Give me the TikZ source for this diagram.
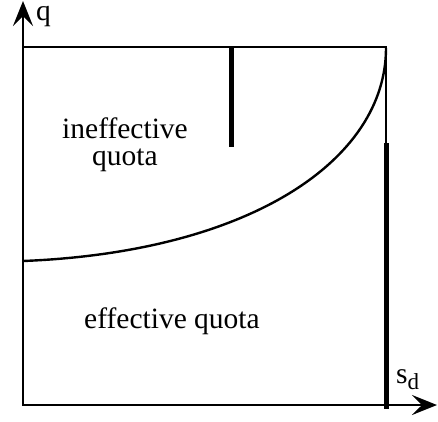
\documentclass[tikz,border=0pt]{standalone}
\usepackage{fontspec}
\setmainfont{Liberation Serif}
\usetikzlibrary{arrows.meta}
\begin{document}
\begin{tikzpicture}[x=1pt,y=-1pt,
  axis/.style={line width=2.8pt,-{Stealth[length=25pt,width=20pt,inset=10pt]}},
  thin/.style={line width=2.8pt},
  curvestyle/.style={line width=2.4pt},
  bar/.style={line width=5pt},
  lbl/.style={font=\fontsize{29.5}{28}\selectfont,inner sep=0pt}]
\useasboundingbox (0,0) rectangle (438,421);
\coordinate (O) at (23,405);
\coordinate (Ytip) at (23,1);
\coordinate (Xtip) at (437,405);
\coordinate (TL) at (23,47);
\coordinate (TR) at (386,47);
\coordinate (RB) at (386,143);
\coordinate (RBot) at (386,409);
\coordinate (MT) at (231,47);
\coordinate (MB) at (231,147);
\coordinate (C0) at (23,261);
\coordinate (C3) at (386,48);
% axes
\draw[axis,line cap=butt] (O) -- (Ytip);
\draw[axis] (O) -- (Xtip);
\draw[thin,line cap=rect] (O) -- (23,47);
% box
\draw[thin] (TL) -- (TR) -- (RB);
% bars
\draw[bar] (MT) -- (MB);
\draw[bar] (RB) -- (RBot);
% curve
\draw[curvestyle] (C0) .. controls (250,252) and (386,160) .. (C3);
% labels
\node[lbl,anchor=base west,text height=14pt] (q) at (36,20) {q};
\node[lbl,anchor=base west] (sd) at (396,383) {s\raisebox{-6pt}{\fontsize{23}{23}\selectfont d}};
\node[lbl,anchor=base] (ineff) at (125,138) {ineffective};
\node[lbl,anchor=base] (quota) at (125,165) {quota};
\node[lbl,anchor=base] (eff) at (172,328) {effective quota};
\end{tikzpicture}
\end{document}
